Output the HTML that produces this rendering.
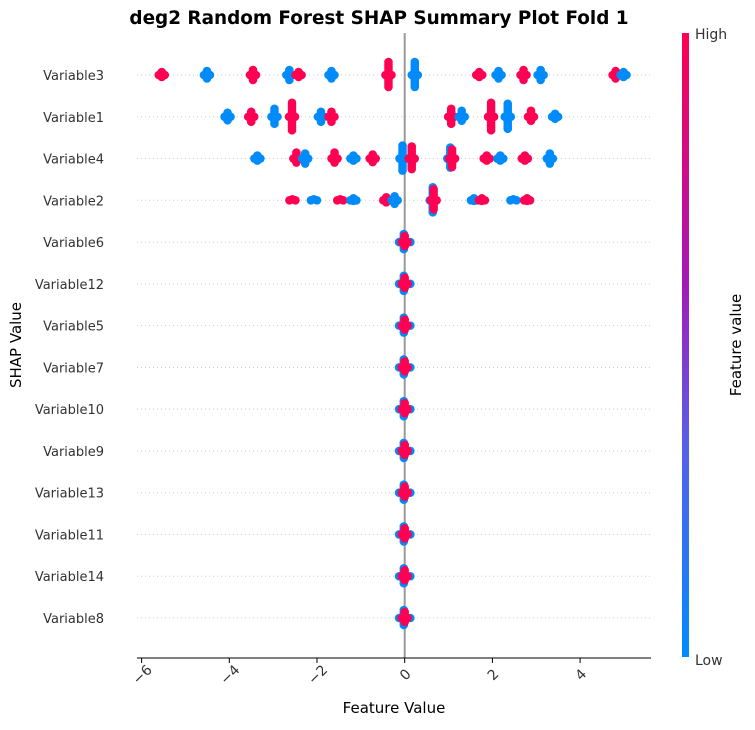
<!DOCTYPE html>
<html><head><meta charset="utf-8"><style>
body{margin:0;background:#fff;font-family:"Liberation Sans","DejaVu Sans",sans-serif;}
svg text{font-family:"DejaVu Sans","Liberation Sans",sans-serif;}
</style></head><body>
<svg id="c" width="755" height="725" xmlns="http://www.w3.org/2000/svg">
<defs><linearGradient id="cb" x1="0" y1="1" x2="0" y2="0">
<stop offset="0" stop-color="#008bfb"/><stop offset="0.35" stop-color="#5a5ee8"/><stop offset="0.6" stop-color="#a419b8"/><stop offset="1" stop-color="#ff0052"/></linearGradient></defs>
<text x="379" y="24" text-anchor="middle" font-size="18.4" font-weight="bold">deg2 Random Forest SHAP Summary Plot Fold 1</text>
<g id="grid"></g><g id="marks"></g><g id="axis"></g>
<rect x="682" y="33" width="7" height="624" fill="url(#cb)"/>
<text x="695" y="39" font-size="14" fill="#333">High</text>
<text x="695" y="665" font-size="14" fill="#333">Low</text>
<text transform="translate(741,345) rotate(-90)" text-anchor="middle" font-size="15">Feature value</text>
<text transform="translate(21,345) rotate(-90)" text-anchor="middle" font-size="15">SHAP Value</text>
<text x="394" y="713" text-anchor="middle" font-size="15">Feature Value</text>
</svg>
<script>
const rowNames=["Variable3","Variable1","Variable4","Variable2","Variable6","Variable12","Variable5","Variable7","Variable10","Variable9","Variable13","Variable11","Variable14","Variable8"];
const xTicks=[-6,-4,-2,0,2,4];
const clusterRow=[0,0,0,0,0,0,0,0,0,0,0,0,0,0, 1,1,1,1,1,1,1,1,1,1,1,1, 2,2,2,2,2,2,2,2,2,2,2,2,2,2, 3,3,3,3,3,3,3,3,3,3,3,3];
const clusterValue=[-5.54,-4.51,-3.46,-2.63,-2.42,-1.67,-0.37,0.23,1.70,2.14,2.71,3.10,4.81,4.99,
 -4.04,-3.50,-2.97,-2.57,-1.91,-1.67,1.06,1.30,1.97,2.35,2.88,3.43,
 -3.36,-2.47,-2.27,-1.60,-1.17,-0.73,-0.05,0.16,1.04,1.08,1.87,2.18,2.74,3.31,
 -2.56,-2.07,-1.47,-1.17,-0.42,-0.23,0.64,0.66,1.58,1.76,2.48,2.79];
const clusterHigh=[1,0,1,0,1,0,1,0,1,0,1,0,1,0, 0,1,0,1,0,1,1,0,1,0,1,0, 0,1,0,1,0,1,0,1,0,1,1,0,1,0, 1,0,1,0,1,0,0,1,0,1,0,1];
const clusterSpread=[14,16,18,18,14,16,34,34,14,16,18,18,16,14, 16,18,24,36,18,18,24,20,36,34,20,14, 14,20,18,20,14,16,34,32,30,26,14,14,14,18, 10,10,10,12,14,16,34,30,12,12,10,12];
const X=v=>404.7+v*43.85, Y=i=>75+i*41.77;
const ns="http://www.w3.org/2000/svg";
const grid=document.getElementById('grid'),marks=document.getElementById('marks'),axis=document.getElementById('axis');
function mk(tag,attrs,parent){const e=document.createElementNS(ns,tag);for(const k in attrs)e.setAttribute(k,attrs[k]);parent.appendChild(e);return e;}
rowNames.forEach((n,i)=>{
 const g=mk('line',{x1:137,x2:650,y1:Y(i),y2:Y(i),stroke:'#ccc','stroke-dasharray':'1,3','stroke-width':1},grid);
 
 
 const t=mk('text',{x:104,y:Y(i)+5,'text-anchor':'end','font-size':13,fill:'#333'},axis);
 t.textContent=n;
 
 
});
const zl=mk('line',{x1:X(0),x2:X(0),y1:33,y2:658,stroke:'#999','stroke-width':2},grid);


function cluster(cx,cy,spread,col){
 const g=mk('g',{},marks);
 
 
 const half=spread/2-4;
 for(let d=-half;d<=half+0.1;d+=2.5){mk('circle',{cx:cx,cy:cy+d,r:4.3,fill:col},g);}
 mk('circle',{cx:cx-3,cy:cy,r:4.3,fill:col},g);mk('circle',{cx:cx+3,cy:cy,r:4.3,fill:col},g);
}
clusterValue.forEach((v,k)=>cluster(X(v),Y(clusterRow[k]),clusterSpread[k],clusterHigh[k]?'#ff0052':'#008bfb'));
for(let i=4;i<rowNames.length;i++){
 cluster(X(-0.02),Y(i),24,'#008bfb');
 cluster(X(-0.06),Y(i),8,'#008bfb');cluster(X(0.06),Y(i),8,'#008bfb');
 cluster(X(0.0),Y(i),20,'#ff0052');
}
const ax=mk('line',{x1:137,x2:651,y1:658,y2:658,stroke:'#000','stroke-width':1},axis);


xTicks.forEach(v=>{
 mk('line',{x1:X(v),x2:X(v),y1:658,y2:663,stroke:'#000'},axis);
 const t=mk('text',{transform:`translate(${X(v)+4},${678}) rotate(-45)`,'text-anchor':'middle','font-size':14,fill:'#333'},axis);
 t.textContent=v<0?'\u2212'+(-v):String(v);
 
 
});
</script>
</body></html>
